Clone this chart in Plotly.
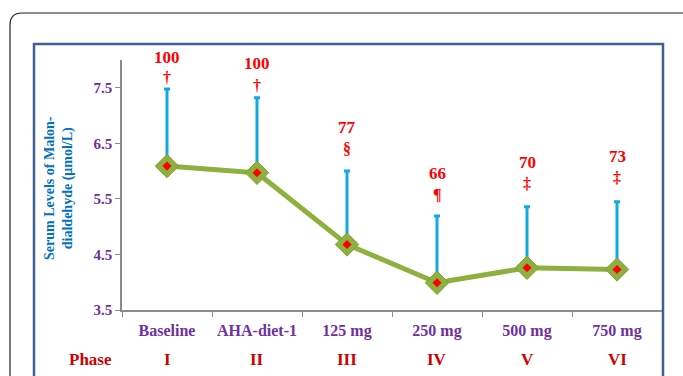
import plotly.graph_objects as go

categories = ["Baseline", "AHA-diet-1", "125 mg", "250 mg", "500 mg", "750 mg"]
phases = ["I", "II", "III", "IV", "V", "VI"]
means = [6.09, 5.97, 4.68, 3.99, 4.26, 4.23]
err_plus = [1.39, 1.35, 1.32, 1.20, 1.10, 1.22]
pct_labels = ["100", "100", "77", "66", "70", "73"]
sig_marks = ["†", "†", "§", "¶", "‡", "‡"]
y_ticks = [3.5, 4.5, 5.5, 6.5, 7.5]

# pixel geometry
W, H = 683, 376
L, R, T, B = 122, 21, 60, 66
PW, PH = W - L - R, H - T - B

def px(x):
    return (x - L) / PW

def py(y):
    return (H - B - y) / PH

serif = "Liberation Serif, Times New Roman, serif"
purple = "#7030A0"
red = "#FF0000"
darkred = "#D00000"
green = "#8DB03F"

fig = go.Figure()

# error bars (upward only)
fig.add_trace(go.Scatter(
    x=categories, y=means, mode="markers",
    marker=dict(size=1, color="rgba(0,0,0,0)"),
    error_y=dict(type="data", symmetric=False, array=err_plus,
                 arrayminus=[0] * len(means), color="#13A8E2",
                 thickness=3, width=3),
    hoverinfo="skip", showlegend=False))

# line with large green diamonds
fig.add_trace(go.Scatter(
    x=categories, y=means, mode="lines+markers",
    line=dict(color=green, width=5),
    marker=dict(symbol="diamond", size=18, color=green,
                line=dict(color="#7E9F38", width=1)),
    showlegend=False))

# red inner diamonds
fig.add_trace(go.Scatter(
    x=categories, y=means, mode="markers",
    marker=dict(symbol="diamond", size=7, color=red),
    showlegend=False))

annotations = []
num_gap = [31, 34, 44, 43, 44, 45]
sym_gap = [11, 12, 23, 22, 23, 24]
for i, c in enumerate(categories):
    top = means[i] + err_plus[i]
    annotations.append(dict(x=c, y=top, xref="x", yref="y", text="<b>" + pct_labels[i] + "</b>",
                            showarrow=False, yshift=num_gap[i],
                            font=dict(family=serif, size=17, color=red)))
    annotations.append(dict(x=c, y=top, xref="x", yref="y", text="<b>" + sig_marks[i] + "</b>",
                            showarrow=False, yshift=sym_gap[i],
                            font=dict(family=serif, size=16, color=red)))
    annotations.append(dict(x=c, y=py(359), xref="x", yref="paper", text="<b>" + phases[i] + "</b>",
                            showarrow=False, yanchor="middle",
                            font=dict(family=serif, size=17, color=darkred)))

annotations.append(dict(x=px(67), y=py(359), xref="paper", yref="paper", text="<b>Phase</b>",
                        showarrow=False, yanchor="middle",
                        font=dict(family=serif, size=17, color=darkred)))
annotations.append(dict(x=px(59), y=py(188), xref="paper", yref="paper",
                        text="<b>Serum Levels of Malon-<br>dialdehyde (μmol/L)</b>",
                        showarrow=False, textangle=-90, xanchor="center", yanchor="middle",
                        font=dict(family=serif, size=14, color="#0070C0")))

# frames
r = 12
outer = (f"M {px(10)} {py(390)} L {px(10)} {py(13 + r)} "
         f"Q {px(10)} {py(13)} {px(10 + r)} {py(13)} L {px(700)} {py(13)}")
shapes = [
    dict(type="path", xref="paper", yref="paper", path=outer,
         line=dict(color="#222222", width=1.2)),
    dict(type="rect", xref="paper", yref="paper",
         x0=px(34), x1=px(663), y0=py(44), y1=py(390),
         line=dict(color="#3F5F95", width=2.5)),
]

fig.update_layout(
    width=W, height=H,
    margin=dict(l=L, r=R, t=T, b=B),
    paper_bgcolor="white", plot_bgcolor="white",
    annotations=annotations, shapes=shapes,
    xaxis=dict(type="category", range=[-0.5, 5.5], tickson="boundaries",
               showline=True, linecolor="#8C8C8C", linewidth=1.5,
               ticks="outside", ticklen=5, tickcolor="#8C8C8C",
               showgrid=False, zeroline=False, ticklabelstandoff=5,
               tickfont=dict(family=serif, size=16, color=purple)),
    yaxis=dict(range=[3.5, 8.0], tickvals=y_ticks,
               ticktext=[f"<b>{v}</b>" for v in y_ticks],
               showline=True, linecolor="#8C8C8C", linewidth=1.5,
               ticks="outside", ticklen=5, tickcolor="#8C8C8C",
               showgrid=False, zeroline=False,
               tickfont=dict(family=serif, size=15, color=purple)),
)
fig.update_xaxes(ticktext=[f"<b>{c}</b>" for c in categories], tickvals=categories)

fig.write_html("out.html", config={"displayModeBar": False},
               post_script="document.body.style.margin='0';document.body.style.overflow='hidden';")
